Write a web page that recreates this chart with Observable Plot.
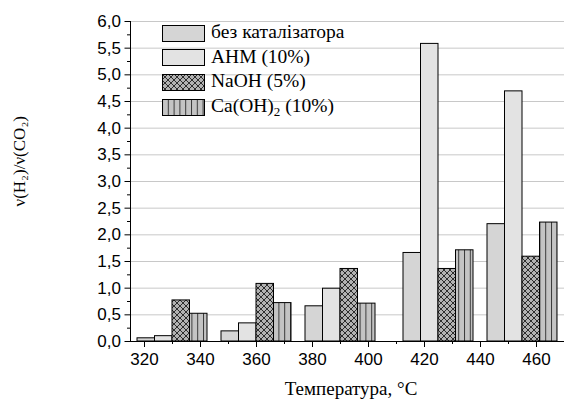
<!DOCTYPE html>
<html><head><meta charset="utf-8">
<script src="https://cdn.jsdelivr.net/npm/d3@7"></script>
<script src="https://cdn.jsdelivr.net/npm/@observablehq/plot@0.6"></script>
<style>
body{margin:0;background:#fff}
#wrap{position:relative;width:565px;height:405px;overflow:hidden}
#legend{position:absolute;left:162px;top:21px;font-family:"Liberation Serif",serif;font-size:19.5px;color:#000}
.row{display:flex;align-items:center;height:24.6px;white-space:nowrap}
.row svg{display:block;margin-right:6px;flex:none}
.row span{position:relative;top:-1px}
sub{font-size:13px;vertical-align:-4px;line-height:0}
</style></head>
<body>
<svg width="0" height="0" style="position:absolute">
  <defs>
    <pattern id="xh" width="6" height="6" patternUnits="userSpaceOnUse">
      <rect width="6" height="6" fill="#b2b2b2"/>
      <path d="M0,0L6,6M6,0L0,6" stroke="#000" stroke-width="0.75"/>
    </pattern>
    <pattern id="vs" width="5.8" height="10" patternUnits="userSpaceOnUse">
      <rect width="5.8" height="10" fill="#c4c4c4"/>
      <line x1="0.5" x2="0.5" y1="0" y2="10" stroke="#3a3a3a" stroke-width="1"/>
    </pattern>
  </defs>
</svg>
<div id="wrap"><div id="legend"></div></div>
<script>
// ---- data ----
const temps = [330, 360, 390, 425, 455];
const seriesNames = ["без каталізатора", "АНМ (10%)", "NaOH (5%)", "Ca(OH)2 (10%)"];
const noCatalyst = [0.06, 0.19, 0.66, 1.66, 2.20];
const anm10 = [0.10, 0.34, 0.99, 5.58, 4.69];
const naoh5 = [0.77, 1.08, 1.36, 1.36, 1.59];
const caoh10 = [0.52, 0.72, 0.71, 1.71, 2.23];
const yTicks = [0, 0.5, 1, 1.5, 2, 2.5, 3, 3.5, 4, 4.5, 5, 5.5, 6];
const yMinorTicks = [0.25, 0.75, 1.25, 1.75, 2.25, 2.75, 3.25, 3.75, 4.25, 4.75, 5.25, 5.75];
const xTicks = [320, 340, 360, 380, 400, 420, 440, 460];
const xMinorTicks = [330, 350, 370, 390, 410, 430, 450];
const xLabel = "Температура, °C";
const yLabel = "ν(H₂)/ν(CO₂)";

// ---- styling ----
const fills = ["#d5d5d5", "#e3e3e3", "url(#xh)", "url(#vs)"];
const groupWidth = 25;
const barWidth = groupWidth / 4;
const values = [noCatalyst, anm10, naoh5, caoh10];

const rows = temps.flatMap((t, i) => values.map((vals, j) => ({
  t, j, v: vals[i],
  x1: t - groupWidth / 2 + j * barWidth,
  x2: t - groupWidth / 2 + (j + 1) * barWidth
})));

const fmt = d => d.toFixed(1).replace(".", ",");

const chart = Plot.plot({
  width: 565, height: 405,
  marginLeft: 130, marginRight: 1, marginTop: 21, marginBottom: 64,
  style: {fontFamily: "Liberation Sans, Arial, sans-serif", fontSize: "17px", color: "#000", background: "transparent"},
  x: {domain: [315, 470]},
  y: {domain: [0, 6]},
  marks: [
    Plot.ruleY(yTicks.filter(d => d > 0), {stroke: "#c8c8c8", strokeWidth: 1}),
    Plot.rectY(rows, {x1: "x1", x2: "x2", y1: 0, y2: "v", fill: d => fills[d.j], stroke: "#000", strokeWidth: 1}),
    Plot.ruleX([315], {stroke: "#000"}),
    Plot.ruleY([0], {stroke: "#000"}),
    Plot.axisY(yTicks, {tickSize: 5.5, tickPadding: 4, tickFormat: fmt, label: null}),
    Plot.axisY(yMinorTicks, {tickSize: 3, tickFormat: () => "", label: null}),
    Plot.axisX(xTicks, {tickSize: 6, tickPadding: 5, label: null}),
    Plot.axisX(xMinorTicks, {tickSize: 3, tickFormat: () => "", label: null}),
    Plot.text([xLabel], {frameAnchor: "bottom", dx: 3.5, dy: 53, fontFamily: "Liberation Serif, serif", fontSize: 19}),
    Plot.text([yLabel], {frameAnchor: "left", rotate: -90, dx: -111, dy: 25, fontFamily: "Liberation Serif, serif", fontSize: 17})
  ]
});
const wrap = document.getElementById("wrap");
wrap.insertBefore(chart, wrap.firstChild);

// legend
const legend = d3.select("#legend");
seriesNames.forEach((name, j) => {
  const row = legend.append("div").attr("class", "row");
  const sv = row.append("svg").attr("width", 43).attr("height", 17);
  sv.append("rect").attr("x", 0.5).attr("y", 0.5).attr("width", 42).attr("height", 16)
    .attr("fill", fills[j]).attr("stroke", "#000");
  const sp = row.append("span");
  if (name.startsWith("Ca(OH)2")) {
    sp.html("Ca(OH)<sub>2</sub>" + name.slice(7));
  } else sp.text(name);
});
</script>
</body></html>
